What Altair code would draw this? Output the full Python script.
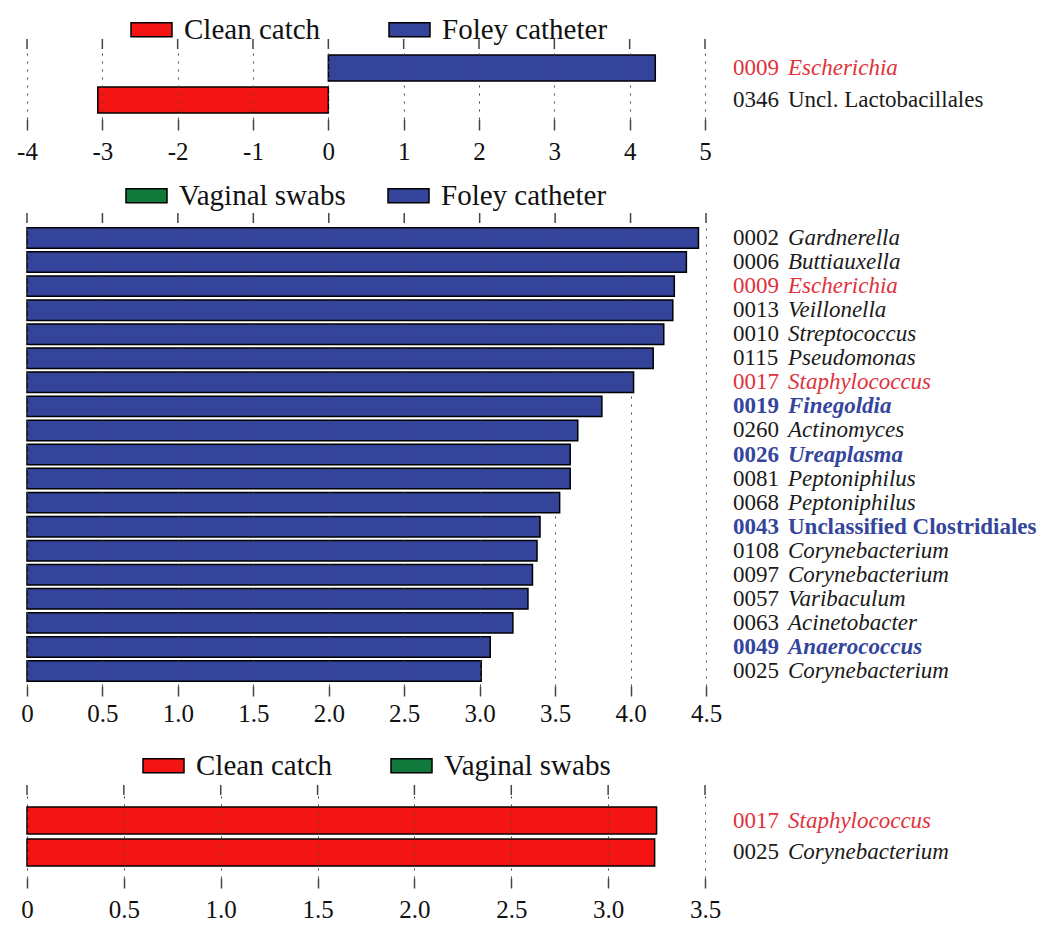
import altair as alt
import pandas as pd

FONT = "Liberation Serif"
TXT = {"red": "#e0323c", "blue": "#34469c", "plain": "#1a1a1a"}
GROUP_COLORS = {"Clean catch": "#f41414", "Foley catheter": "#33449a", "Vaginal swabs": "#0f7a3c"}

# ---------------- data ----------------
p1_ids = ["0009", "0346"]
p1_names = ["Escherichia", "Uncl. Lactobacillales"]
p1_values = [4.34, -3.06]
p1_groups = ["Foley catheter", "Clean catch"]
p1_hl = ["red", "plain"]
p1_bold = [False, False]
p1_italic = [True, False]
p1_ticks = [-4, -3, -2, -1, 0, 1, 2, 3, 4, 5]
p1_legend = ["Clean catch", "Foley catheter"]

p2_ids = ["0002", "0006", "0009", "0013", "0010", "0115", "0017", "0019", "0260", "0026",
          "0081", "0068", "0043", "0108", "0097", "0057", "0063", "0049", "0025"]
p2_names = ["Gardnerella", "Buttiauxella", "Escherichia", "Veillonella", "Streptococcus",
            "Pseudomonas", "Staphylococcus", "Finegoldia", "Actinomyces", "Ureaplasma",
            "Peptoniphilus", "Peptoniphilus", "Unclassified Clostridiales", "Corynebacterium",
            "Corynebacterium", "Varibaculum", "Acinetobacter", "Anaerococcus", "Corynebacterium"]
p2_values = [4.45, 4.37, 4.29, 4.28, 4.22, 4.15, 4.02, 3.81, 3.65, 3.60,
             3.60, 3.53, 3.40, 3.38, 3.35, 3.32, 3.22, 3.07, 3.01]
p2_groups = ["Foley catheter"] * 19
p2_hl = ["plain", "plain", "red", "plain", "plain", "plain", "red", "blue", "plain", "blue",
         "plain", "plain", "blue", "plain", "plain", "plain", "plain", "blue", "plain"]
p2_bold = [False, False, False, False, False, False, False, True, False, True,
           False, False, True, False, False, False, False, True, False]
p2_italic = [True, True, True, True, True, True, True, True, True, True,
             True, True, False, True, True, True, True, True, True]
p2_ticks = [0, 0.5, 1.0, 1.5, 2.0, 2.5, 3.0, 3.5, 4.0, 4.5]
p2_legend = ["Vaginal swabs", "Foley catheter"]

p3_ids = ["0017", "0025"]
p3_names = ["Staphylococcus", "Corynebacterium"]
p3_values = [3.25, 3.24]
p3_groups = ["Clean catch", "Clean catch"]
p3_hl = ["red", "plain"]
p3_bold = [False, False]
p3_italic = [True, True]
p3_ticks = [0, 0.5, 1.0, 1.5, 2.0, 2.5, 3.0, 3.5]
p3_legend = ["Clean catch", "Vaginal swabs"]


def panel(ids, names, values, groups, hl, bold, italic, ticks, legend_domain,
          domain, width, height, pin, pout, lx, ly, colpad, tick_size, label_pad,
          label_expr, text_gap):
    df = pd.DataFrame({"key": ids, "name": names, "value": values, "group": groups,
                       "tcolor": [TXT[h] for h in hl], "bold": bold, "italic": italic})
    xscale = alt.Scale(domain=domain, nice=False, zero=False)
    yscale = alt.Scale(domain=ids, paddingInner=pin, paddingOuter=pout)
    yenc = alt.Y("key:N", scale=yscale, axis=None, sort=ids)
    xaxis = alt.Axis(
        values=ticks, labelExpr=label_expr, grid=True, gridDash=[2, 6],
        gridColor="#444", gridWidth=1, ticks=True, tickSize=tick_size,
        tickColor="#444", tickWidth=1.5, domain=False, labelFont=FONT,
        labelFontSize=25, labelColor="#111", labelPadding=label_pad,
        title=None, zindex=1, labelFlush=False, labelOverlap=False)

    bars = alt.Chart(df).mark_bar(stroke="black", strokeWidth=1.5).encode(
        x=alt.X("value:Q", scale=xscale, axis=xaxis),
        y=yenc,
        color=alt.Color("group:N", scale=alt.Scale(
            domain=legend_domain, range=[GROUP_COLORS[g] for g in legend_domain]),
            legend=alt.Legend(
                orient="none", legendX=lx, legendY=ly, direction="horizontal",
                title=None, symbolType="M-1,-0.34H1V0.34H-1Z", symbolSize=1681,
                symbolStrokeColor="black", symbolStrokeWidth=1.5, symbolOpacity=1,
                labelFont=FONT, labelFontSize=29, labelColor="#111", labelLimit=400,
                labelOffset=11, columnPadding=colpad, padding=0)),
    )

    tdf = pd.DataFrame({"value": ticks})
    top_ticks = alt.Chart(tdf).mark_rule(color="#444", strokeWidth=1.5).encode(
        x=alt.X("value:Q", scale=xscale, axis=xaxis),
        y=alt.value(-10), y2=alt.value(0))

    layers = [bars, top_ticks]
    x0 = 706
    for b in [False, True]:
        sub = df[df["bold"] == b]
        if len(sub):
            layers.append(alt.Chart(sub).mark_text(
                align="left", baseline="middle", font=FONT, fontSize=23,
                fontWeight="bold" if b else "normal").encode(
                x=alt.value(x0), y=yenc, text="key:N",
                fill=alt.Fill("tcolor:N", scale=None)))
        for it in [False, True]:
            sub = df[(df["bold"] == b) & (df["italic"] == it)]
            if len(sub):
                layers.append(alt.Chart(sub).mark_text(
                    align="left", baseline="middle", font=FONT, fontSize=23,
                    fontWeight="bold" if b else "normal",
                    fontStyle="italic" if it else "normal").encode(
                    x=alt.value(x0 + text_gap), y=yenc, text="name:N",
                    fill=alt.Fill("tcolor:N", scale=None)))
    return alt.layer(*layers).properties(width=width, height=height)


int_expr = "'' + datum.value"
dec_expr = "datum.value == 0 ? '0' : format(datum.value, '.1f')"

c1 = panel(p1_ids, p1_names, p1_values, p1_groups, p1_hl, p1_bold, p1_italic, p1_ticks,
           p1_legend, [-4, 5], 678, 70, 0.19, 0.19, 103, -41, 65, 11, 9, int_expr, 55)
c2 = panel(p2_ids, p2_names, p2_values, p2_groups, p2_hl, p2_bold, p2_italic, p2_ticks,
           p2_legend, [0, 4.5], 679, 463, 0.15, 0.2, 98, -49, 39, 10, 5, dec_expr, 55)
c3 = panel(p3_ids, p3_names, p3_values, p3_groups, p3_hl, p3_bold, p3_italic, p3_ticks,
           p3_legend, [0, 3.5], 678, 83, 0.156, 0.375, 115, -51, 55, 10, 9, dec_expr, 55)

top = alt.vconcat(c1, c2, spacing=10).resolve_scale(color="independent", x="independent", y="independent")
chart = alt.vconcat(top, c3, spacing=18).resolve_scale(
    color="independent", x="independent", y="independent"
).properties(
    padding={"left": 8, "top": 0, "right": 2, "bottom": 0},
    background="white",
).configure_view(stroke=None)

chart.save("out.html", embed_options={"renderer": "svg", "actions": False})
